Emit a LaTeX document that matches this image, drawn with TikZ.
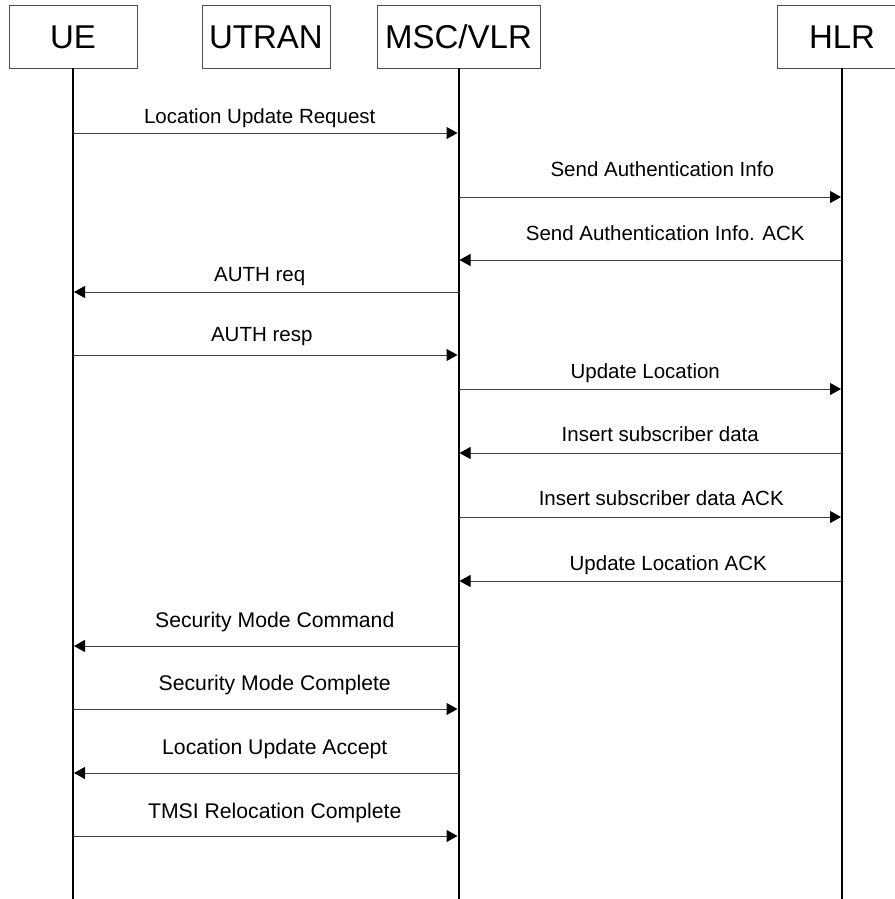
\documentclass[tikz,border=0pt]{standalone}
\usepackage{fontspec}
\setmainfont{Liberation Sans}
\usetikzlibrary{arrows.meta, positioning, calc}

\begin{document}
\begin{tikzpicture}[
		x=1pt, y=-1pt,
		font=\fontsize{20.5}{24}\selectfont,
		entity/.style={
			draw=black!70,
			line width=0.8pt,
			minimum height=63pt,
			inner sep=0pt,
			text height=23.5pt,
			text depth=0pt,
			font=\fontsize{33}{36}\selectfont
		},
		life/.style={line width=2pt},
		msg/.style={draw=black!75, line width=1pt, -{Triangle[length=11pt,width=12pt,color=black]}, shorten >=1pt},
		lbl/.style={midway, anchor=base, text=black},
		lowlbl/.style={lbl, font=\fontsize{21.2}{24}\selectfont}
	]
	\useasboundingbox (0,0) rectangle (894,899);
	
	% entities
	\node[entity,minimum width=128pt] (ue) at (73,36.5) {UE};
	\node[entity,minimum width=128pt] (utran) at (266,36.5) {UTRAN};
	\node[entity,minimum width=163pt] (msc) at (458.5,36.5) {MSC/VLR};
	\node[entity,minimum width=130pt] (hlr) at (842,36.5) {HLR};
	
	% lifelines
	\coordinate (bottom) at (0,899);
	\draw[life] (ue.south) -- (ue.south |- bottom);
	\draw[life] (msc.south) -- (msc.south |- bottom);
	\draw[life] (hlr.south) -- (hlr.south |- bottom);
	
	% message rows
	\coordinate (m1) at (0,133);
	\coordinate (m2) at (0,197);
	\coordinate (m3) at (0,260);
	\coordinate (m4) at (0,292);
	\coordinate (m5) at (0,355);
	\coordinate (m6) at (0,389);
	\coordinate (m7) at (0,453);
	\coordinate (m8) at (0,517);
	\coordinate (m9) at (0,581);
	\coordinate (m10) at (0,646);
	\coordinate (m11) at (0,709);
	\coordinate (m12) at (0,773);
	\coordinate (m13) at (0,836);
	
	\draw[msg] (ue |- m1) -- node[lbl,yshift=10pt,xshift=-6pt]{Location Update Request} (msc |- m1);
	\draw[msg] (msc |- m2) -- node[lbl,yshift=21pt,xshift=12pt]{Send Authentication Info} (hlr |- m2);
	\draw[msg] (hlr |- m3) -- node[lbl,yshift=20pt,xshift=15pt]{Send Authentication Info. ACK} (msc |- m3);
	\draw[msg] (msc |- m4) -- node[lbl,yshift=11pt,xshift=-6pt]{AUTH req} (ue |- m4);
	\draw[msg] (ue |- m5) -- node[lbl,yshift=14pt,xshift=-4pt]{AUTH resp} (msc |- m5);
	\draw[msg] (msc |- m6) -- node[lbl,yshift=11pt,xshift=-5pt]{Update Location} (hlr |- m6);
	\draw[msg] (hlr |- m7) -- node[lbl,yshift=12pt,xshift=10pt]{Insert subscriber data} (msc |- m7);
	\draw[msg] (msc |- m8) -- node[lbl,yshift=12pt,xshift=11pt]{Insert subscriber data ACK} (hlr |- m8);
	\draw[msg] (hlr |- m9) -- node[lbl,yshift=11pt,xshift=18pt]{Update Location ACK} (msc |- m9);
	\draw[msg] (msc |- m10) -- node[lowlbl,yshift=19pt,xshift=9pt]{Security Mode Command} (ue |- m10);
	\draw[msg] (ue |- m11) -- node[lowlbl,yshift=19pt,xshift=9pt]{Security Mode Complete} (msc |- m11);
	\draw[msg] (msc |- m12) -- node[lowlbl,yshift=19pt,xshift=9pt]{Location Update Accept} (ue |- m12);
	\draw[msg] (ue |- m13) -- node[lowlbl,yshift=18pt,xshift=9pt]{TMSI Relocation Complete} (msc |- m13);
	
\end{tikzpicture}
\end{document}
